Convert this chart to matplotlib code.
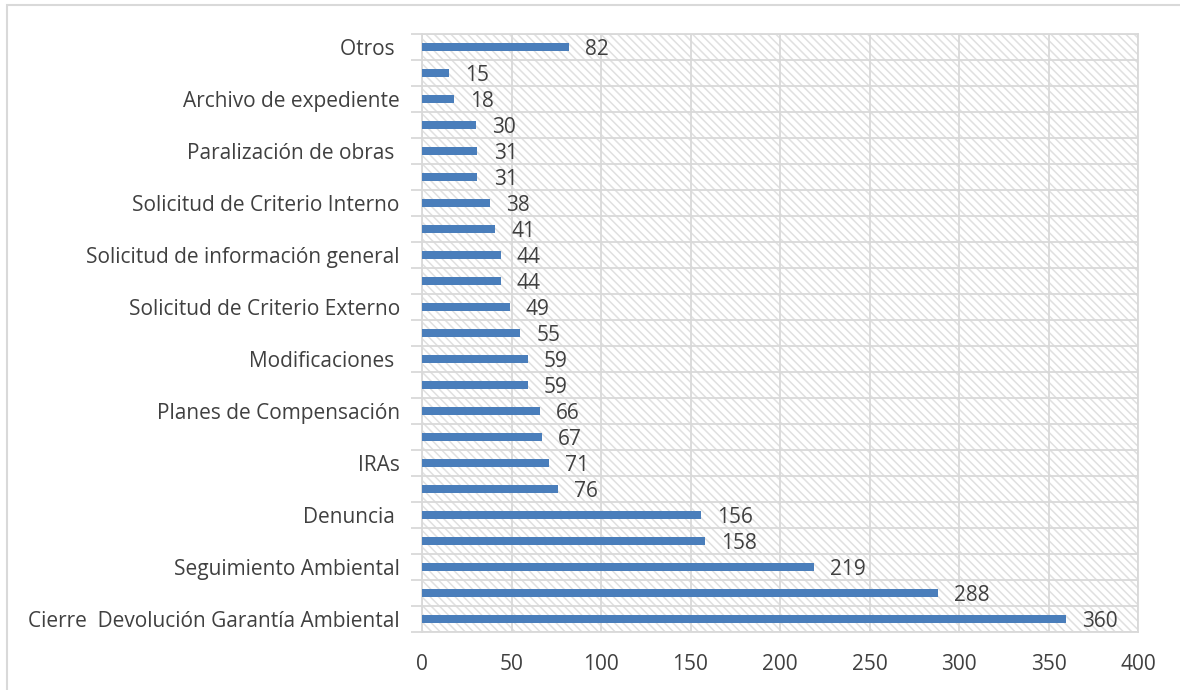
import matplotlib
matplotlib.use("Agg")
import matplotlib.pyplot as plt
from matplotlib.patches import Rectangle
import numpy as np

categories = [
    "Cierre  Devolución Garantía Ambiental", "", "Seguimiento Ambiental", "",
    "Denuncia ", "", "IRAs", "", "Planes de Compensación", "",
    "Modificaciones ", "", "Solicitud de Criterio Externo", "",
    "Solicitud de información general", "", "Solicitud de Criterio Interno", "",
    "Paralización de obras ", "", "Archivo de expediente", "", "Otros ",
]
values = [360, 288, 219, 158, 156, 76, 71, 67, 66, 59, 59, 55, 49, 44, 44,
          41, 38, 31, 31, 30, 18, 15, 82]
xticks = [0, 50, 100, 150, 200, 250, 300, 350, 400]

plt.rcParams['font.family'] = ['Open Sans', 'DejaVu Sans']
plt.rcParams['hatch.linewidth'] = 1.1
plt.rcParams['hatch.color'] = '#e0e0e0'

fig = plt.figure(figsize=(11.8, 6.9), dpi=100)
ax = fig.add_axes([422/1180, 1-632/690, (1138-422)/1180, (632-34)/690])

n = len(categories)
y = np.arange(n)
ax.set_xlim(0, 400)
ax.set_ylim(-0.5, n - 0.5)

# hatched background
bg = Rectangle((0, 0), 1, 1, transform=ax.transAxes, facecolor='white',
               edgecolor='#e0e0e0', hatch='\\\\\\\\', linewidth=0, zorder=0)
ax.add_patch(bg)

ax.barh(y, values, height=0.3, color='#4a7ebb', zorder=3)
for yi, v in zip(y, values):
    ax.text(v + 9, yi, str(v), va='center_baseline', ha='left', fontsize=15,
            color='#404040', zorder=4)

ax.set_xticks(xticks)
ax.set_yticks(y)
ax.set_yticklabels(categories, va='center_baseline')
ax.set_yticks(np.arange(-0.5, n, 1), minor=True)
ax.tick_params(axis='y', which='major', length=0, pad=16, labelsize=15,
               labelcolor='#404040')
ax.tick_params(axis='y', which='minor', length=8, color='#d9d9d9', width=1.3)
ax.tick_params(axis='x', which='major', length=0, pad=16, labelsize=15,
               labelcolor='#404040')
ax.grid(True, axis='x', which='major', color='#d9d9d9', linewidth=1.3, zorder=1)
ax.grid(True, axis='y', which='minor', color='#d9d9d9', linewidth=1.3, zorder=1)
ax.set_axisbelow(True)
for s in ax.spines.values():
    s.set_color('#d9d9d9')
    s.set_linewidth(1.3)

# figure border
fig.patches.append(Rectangle((7/1180, -0.01), 1.02, 1 - 5/690 + 0.01,
                             transform=fig.transFigure, fill=False,
                             edgecolor='#d9d9d9', linewidth=1.5))

fig.savefig("out.png", dpi=100)
